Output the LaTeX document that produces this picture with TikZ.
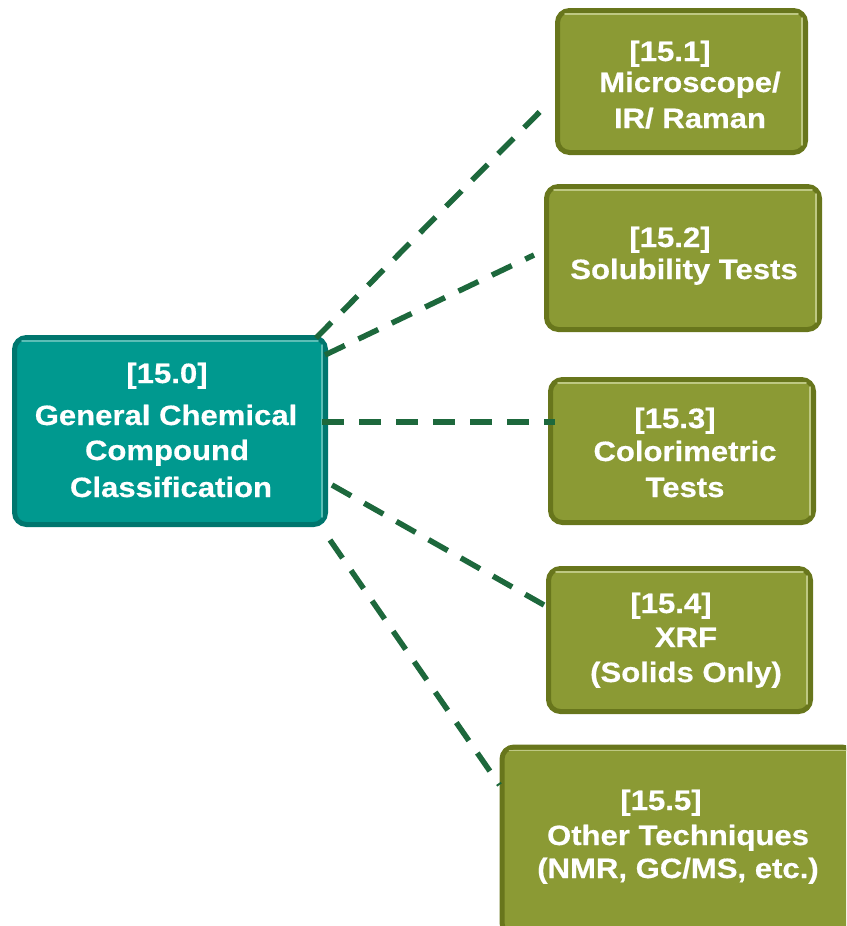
\documentclass[tikz,border=0pt]{standalone}
\usepackage{fontspec}
\newfontfamily\boxfont{Liberation Sans}[FakeStretch=1.11,FakeBold=0.5]
\usetikzlibrary{calc}
\definecolor{tealF}{RGB}{0,153,143}
\definecolor{tealE}{RGB}{0,118,110}
\definecolor{tealH}{RGB}{90,190,182}
\definecolor{oliveF}{RGB}{139,154,52}
\definecolor{oliveE}{RGB}{104,118,28}
\definecolor{oliveH}{RGB}{190,200,130}
\definecolor{linkC}{RGB}{29,104,60}
\tikzset{
  box/.style={rectangle, rounded corners=12pt, line width=5pt, inner sep=0pt},
  tealbox/.style={box, fill=tealF, draw=tealE},
  olivebox/.style={box, fill=oliveF, draw=oliveE},
  hl/.style={line width=1.6pt, line cap=round},
  lbl/.style={text=white, font=\boxfont\bfseries\fontsize{28}{32}\selectfont, anchor=base, inner sep=0pt},
  link/.style={draw=linkC, line width=5.5pt, dash pattern=on 22pt off 15pt},
}
\begin{document}
\begin{tikzpicture}[x=1pt,y=-1pt]
\useasboundingbox (0,0) rectangle (846,926);
\clip (0,0) rectangle (846,926);

% boxes
\node[tealbox, minimum width=311pt, minimum height=187pt] (b0) at (170,431) {};
\node[olivebox, minimum width=248pt, minimum height=142pt] (b1) at (681.5,81.5) {};
\node[olivebox, minimum width=273pt, minimum height=143pt] (b2) at (683,258) {};
\node[olivebox, minimum width=263pt, minimum height=143pt] (b3) at (682,451) {};
\node[olivebox, minimum width=262pt, minimum height=143pt] (b4) at (679.5,640) {};
\node[olivebox, minimum width=352pt, minimum height=188pt] (b5) at (678,841) {};

% bevel highlights
\draw[hl, tealH] ([xshift=10pt,yshift=-6pt]b0.north west) -- ([xshift=-10pt,yshift=-6pt]b0.north east);
\draw[hl, tealH] ([xshift=-6pt,yshift=-10pt]b0.north east) -- ([xshift=-6pt,yshift=10pt]b0.south east);
\foreach \b in {b1,b2,b3,b4,b5}{
  \draw[hl, oliveH] ([xshift=10pt,yshift=-6pt]\b.north west) -- ([xshift=-10pt,yshift=-6pt]\b.north east);
  \draw[hl, oliveH] ([xshift=-6pt,yshift=-10pt]\b.north east) -- ([xshift=-6pt,yshift=10pt]\b.south east);
}

% connectors
\draw[link] ($(b0.north east)+(-12,3)$) -- ($(b1.west)+(-6,21)$);
\draw[link] ($(b0.north east)+(-3,20)$) -- ($(b2.west)+(-10,-3)$);
\draw[link] ($(b0.east)+(-6,-9)$) -- ($(b3.west)+(7,-29)$);
\draw[link] ($(b0.east)+(4,54)$) -- ($(b4.west)+(-2,-35)$);
\draw[link] ($(b0.south east)+(2,13)$) -- ($(b5.west)+(0,-56)$);

% labels
\node[lbl] (t0a) at (167,383) {[15.0]};
\node[lbl] (t0b) at (166,425) {General Chemical};
\node[lbl] (t0c) at (167,460) {Compound};
\node[lbl] (t0d) at (171,497) {Classification};

\node[lbl] (t1a) at (670,61) {[15.1]};
\node[lbl] (t1b) at (690,92) {Microscope/};
\node[lbl] (t1c) at (690,128) {IR/ Raman};

\node[lbl] (t2a) at (670,247) {[15.2]};
\node[lbl] (t2b) at (684,279) {Solubility Tests};

\node[lbl] (t3a) at (675,428) {[15.3]};
\node[lbl] (t3b) at (685,461) {Colorimetric};
\node[lbl] (t3c) at (685,497) {Tests};

\node[lbl] (t4a) at (671,613) {[15.4]};
\node[lbl] (t4b) at (686,647) {XRF};
\node[lbl] (t4c) at (686,682) {(Solids Only)};

\node[lbl] (t5a) at (661,810) {[15.5]};
\node[lbl] (t5b) at (678,845) {Other Techniques};
\node[lbl] (t5c) at (678,878) {(NMR, GC/MS, etc.)};
\end{tikzpicture}
\end{document}
